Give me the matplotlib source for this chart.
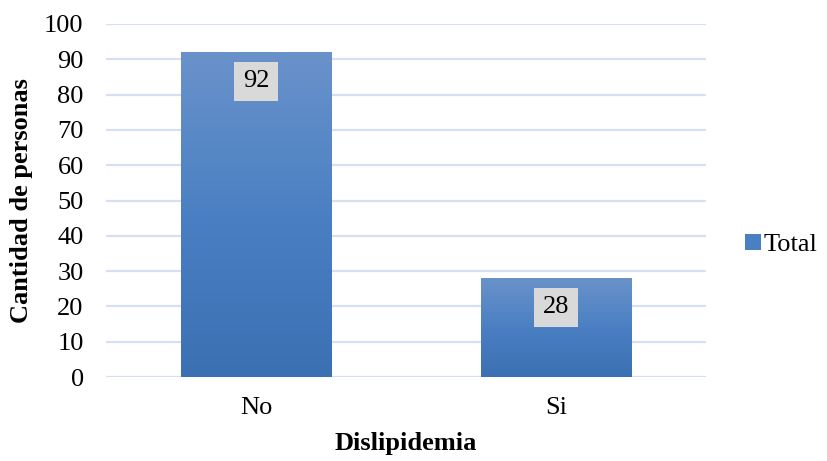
import numpy as np
import matplotlib.pyplot as plt
from matplotlib.colors import LinearSegmentedColormap
from matplotlib.patches import Patch

# Datos
categorias = ["No", "Si"]
totales = [92, 28]
yticks = list(range(0, 101, 10))

plt.rcParams["font.family"] = ["Liberation Serif", "DejaVu Serif"]

fig = plt.figure(figsize=(8.27, 4.61), dpi=100)
ax = fig.add_axes([0.128, 0.182, 0.726, 0.766])

x = np.arange(len(categorias))
ancho = 0.5

# degradado vertical de las barras (claro arriba, oscuro abajo)
grad = LinearSegmentedColormap.from_list("azul", ["#3B70B3", "#4A80C3", "#6A92CA"])
barras = ax.bar(x, totales, width=ancho, color="none", edgecolor="none", zorder=2)
for b in barras:
    x0, y0 = b.get_x(), b.get_y()
    w, h = b.get_width(), b.get_height()
    img = ax.imshow(np.linspace(0, 1, 256).reshape(-1, 1), cmap=grad, origin="lower",
                    extent=[x0, x0 + w, y0, y0 + h], aspect="auto", zorder=2)
    img.set_clip_path(b)

# etiquetas de valor
for xi, v in zip(x, totales):
    ax.annotate(str(v), (xi, v), xytext=(0, -21), textcoords="offset points",
                ha="center", va="center", fontsize=19, zorder=4,
                bbox=dict(boxstyle="square,pad=0.32", fc="#D9D9D9", ec="none"))

ax.set_xlim(-0.5, 1.5)
ax.set_ylim(0, 100)
ax.set_yticks(yticks)
ax.set_xticks(x)
ax.set_xticklabels(categorias)
ax.tick_params(axis="both", length=0, labelsize=19)
ax.tick_params(axis="y", pad=16)
ax.tick_params(axis="x", pad=14)
ax.yaxis.grid(True, color="#D6E0F0", linewidth=1.6, zorder=0)
ax.set_axisbelow(True)
for s in ax.spines.values():
    s.set_visible(False)

ax.set_xlabel("Dislipidemia", fontsize=19, fontweight="bold", labelpad=10)
ax.set_ylabel("Cantidad de personas", fontsize=19, fontweight="bold", labelpad=8)

ax.legend(handles=[Patch(facecolor="#4A80C3", label="Total")], loc="center left",
          bbox_to_anchor=(1.025, 0.374), frameon=False, fontsize=19,
          handlelength=0.6, handleheight=0.6, handletextpad=0.1)

fig.savefig("out.png", dpi=100)
